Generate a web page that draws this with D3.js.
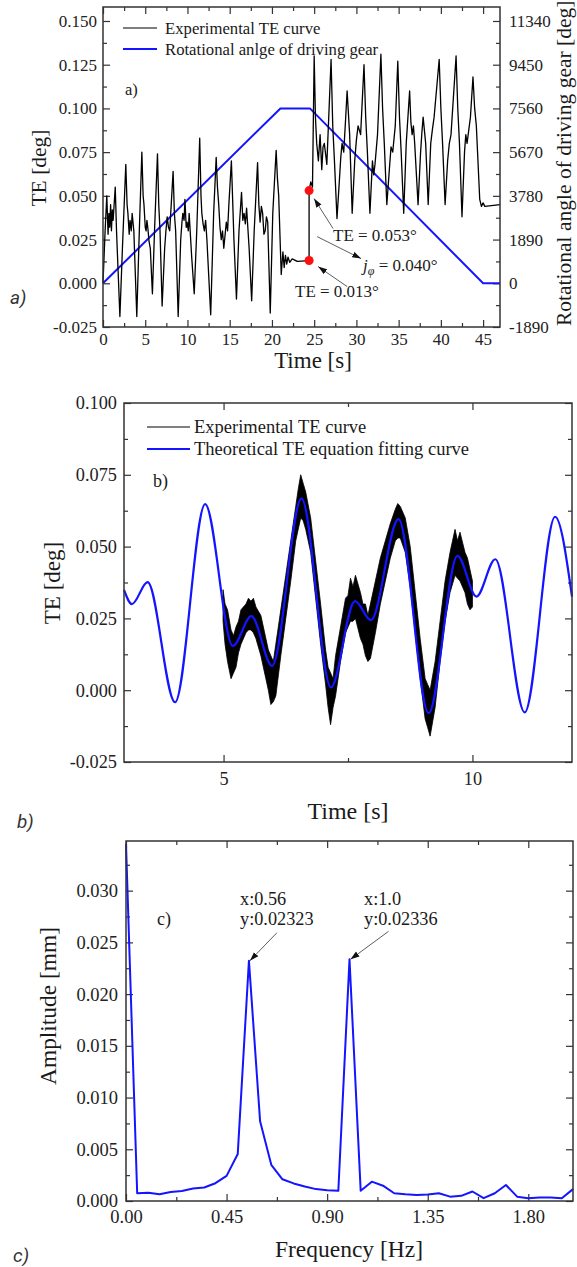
<!DOCTYPE html>
<html>
<head>
<meta charset="utf-8">
<script src="https://cdn.jsdelivr.net/npm/d3@7"></script>
<style>
  body { margin: 0; background: #fff; }
  svg { display: block; }
</style>
</head>
<body>
<svg id="chart" width="577" height="1267"></svg>
<script>
// ---- panel a: experimental TE [t (s), TE (deg)] ----
var teA = [
  [0, 0.000], [0.25, 0.030], [0.45, 0.050], [0.6, 0.028], [0.7, 0.040], [0.8, 0.032],
  [0.9, 0.045], [1.0, 0.030], [1.1, 0.042], [1.2, 0.036], [1.45, 0.055], [1.6, 0.030],
  [2.0, -0.019], [2.3, 0.020], [2.7, 0.068], [2.85, 0.045], [2.95, 0.040], [3.1, 0.028],
  [3.2, 0.036], [3.35, 0.030], [3.45, 0.040], [3.65, 0.030], [4.0, -0.019], [4.3, 0.030],
  [4.6, 0.075], [4.75, 0.050], [4.85, 0.045], [5.0, 0.032], [5.1, 0.030], [5.2, 0.036],
  [5.3, 0.032], [5.45, 0.024], [5.6, 0.020], [5.85, -0.006], [6.1, 0.030], [6.45, 0.074],
  [6.6, 0.045], [6.75, 0.030], [7.0, -0.013], [7.3, 0.020], [7.45, 0.030], [7.6, 0.038],
  [7.75, 0.032], [7.9, 0.030], [8.3, 0.064], [8.45, 0.040], [8.6, 0.030], [8.9, -0.019],
  [9.2, 0.025], [9.35, 0.035], [9.45, 0.040], [9.6, 0.036], [9.7, 0.048], [9.85, 0.032],
  [9.95, 0.035], [10.1, 0.030], [10.2, 0.040], [10.5, 0.015], [10.8, -0.006], [11.1, 0.030],
  [11.45, 0.083], [11.6, 0.050], [11.7, 0.040], [11.85, 0.034], [12.0, 0.030], [12.15, 0.036],
  [12.3, 0.025], [12.75, -0.018], [13.1, 0.040], [13.4, 0.072], [13.55, 0.055], [13.7, 0.045],
  [13.85, 0.032], [14.0, 0.025], [14.15, 0.030], [14.3, 0.020], [14.6, 0.035], [14.75, 0.030],
  [14.9, 0.045], [15.2, 0.070], [15.5, 0.025], [15.8, -0.009], [16.1, 0.030], [16.4, 0.052],
  [16.55, 0.036], [16.7, 0.040], [16.85, 0.034], [17.0, 0.043], [17.3, 0.020], [17.6, -0.010],
  [17.9, 0.030], [18.3, 0.069], [18.45, 0.045], [18.6, 0.035], [18.75, 0.044], [18.9, 0.040],
  [19.05, 0.028], [19.2, 0.030], [19.35, 0.038], [19.5, 0.035], [19.8, -0.017], [20.1, 0.040],
  [20.5, 0.076], [20.65, 0.060], [20.8, 0.050], [21.1, 0.005], [21.3, 0.018], [21.45, 0.009],
  [21.6, 0.016], [21.75, 0.011], [21.9, 0.015], [22.1, 0.012], [22.4, 0.014], [23.0, 0.0125],
  [24.4, 0.013],
  [24.4, 0.053], [24.6, 0.058], [24.8, 0.055], [25.0, 0.130], [25.15, 0.095], [25.3, 0.080],
  [25.5, 0.070], [25.7, 0.085], [25.9, 0.065], [26.05, 0.078], [26.2, 0.080], [26.5, 0.068],
  [27.0, 0.128], [27.2, 0.090], [27.4, 0.070], [27.7, 0.037], [28.0, 0.060], [28.15, 0.072],
  [28.3, 0.080], [28.5, 0.075], [28.7, 0.092], [28.9, 0.110], [29.2, 0.085], [29.5, 0.040],
  [29.8, 0.070], [30.0, 0.082], [30.2, 0.090], [30.5, 0.085], [30.9, 0.125], [31.1, 0.095],
  [31.3, 0.075], [31.6, 0.040], [31.9, 0.070], [32.05, 0.062], [32.2, 0.068], [32.5, 0.085],
  [32.9, 0.131], [33.1, 0.100], [33.3, 0.080], [33.6, 0.045], [33.9, 0.065], [34.1, 0.078],
  [34.3, 0.075], [34.6, 0.090], [34.9, 0.127], [35.1, 0.095], [35.3, 0.075], [35.6, 0.040],
  [35.9, 0.080], [36.3, 0.110], [36.45, 0.092], [36.6, 0.085], [36.75, 0.090], [36.9, 0.080],
  [37.3, 0.045], [37.6, 0.075], [37.75, 0.086], [37.9, 0.095], [38.2, 0.080], [38.5, 0.045],
  [38.8, 0.080], [39.0, 0.088], [39.2, 0.095], [39.8, 0.128], [40.0, 0.100], [40.2, 0.080],
  [40.5, 0.045], [40.8, 0.070], [41.0, 0.080], [41.2, 0.085], [41.8, 0.130], [42.0, 0.100],
  [42.2, 0.080], [42.5, 0.038], [42.8, 0.075], [42.95, 0.085], [43.1, 0.080], [43.5, 0.095],
  [43.8, 0.118], [44.0, 0.100], [44.2, 0.090], [44.6, 0.048], [44.8, 0.044], [45.0, 0.046],
  [45.2, 0.044], [47.0, 0.045]
];
// rotational angle of driving gear [t, deg]
var angleA = [[0, 0], [21, 7560], [24.5, 7560], [45, 0], [47, 0]];
var pointsA = [[24.4, 0.053], [24.4, 0.013]];
var xTicksA = [0, 5, 10, 15, 20, 25, 30, 35, 40, 45];
var yTicksA = [-0.025, 0, 0.025, 0.05, 0.075, 0.1, 0.125, 0.15];
var yTicksA2 = [-1890, 0, 1890, 3780, 5670, 7560, 9450, 11340];

// ---- panel b: fitted curve extrema [t, TE] and experimental band ----
var fitB = [
  [3.0, 0.0349], [3.159, 0.030], [3.474, 0.0376], [4.026, -0.0042], [4.63, 0.0648],
  [5.188, 0.0154], [5.558, 0.0258], [5.975, 0.0085], [6.566, 0.0668], [7.157, 0.001],
  [7.64, 0.031], [7.96, 0.0244], [8.515, 0.0596], [9.12, -0.008], [9.70, 0.0468],
  [10.08, 0.0326], [10.46, 0.0456], [11.05, -0.0077], [11.66, 0.0604], [12.0, 0.0326]
];
// [t, low, high]
var expB = [
  [4.99, 0.024, 0.035], [5.03, 0.016, 0.030], [5.08, 0.010, 0.028], [5.15, 0.004, 0.021],
  [5.2, 0.006, 0.019], [5.25, 0.008, 0.022], [5.3, 0.013, 0.024], [5.35, 0.016, 0.028],
  [5.45, 0.020, 0.030], [5.5, 0.021, 0.032], [5.55, 0.021, 0.031], [5.6, 0.020, 0.032],
  [5.65, 0.018, 0.029], [5.75, 0.012, 0.026], [5.85, 0.004, 0.018], [5.9, 0.0, 0.014],
  [5.95, -0.005, 0.012], [6.0, -0.004, 0.010], [6.05, -0.002, 0.016], [6.15, 0.012, 0.028],
  [6.25, 0.025, 0.040], [6.35, 0.038, 0.052], [6.45, 0.052, 0.064], [6.5, 0.056, 0.070],
  [6.55, 0.060, 0.075], [6.6, 0.059, 0.072], [6.65, 0.056, 0.069], [6.75, 0.048, 0.060],
  [6.85, 0.032, 0.045], [6.95, 0.016, 0.030], [7.05, 0.002, 0.014], [7.1, -0.006, 0.008],
  [7.15, -0.012, 0.006], [7.2, -0.006, 0.004], [7.25, -0.002, 0.012], [7.35, 0.010, 0.022],
  [7.45, 0.020, 0.032], [7.5, 0.022, 0.033], [7.55, 0.024, 0.039], [7.6, 0.024, 0.036],
  [7.65, 0.025, 0.040], [7.75, 0.018, 0.034], [7.8, 0.016, 0.030], [7.85, 0.012, 0.030],
  [7.9, 0.010, 0.026], [7.95, 0.011, 0.030], [8.05, 0.020, 0.038], [8.15, 0.030, 0.046],
  [8.25, 0.038, 0.052], [8.35, 0.046, 0.058], [8.45, 0.052, 0.063], [8.5, 0.053, 0.065],
  [8.55, 0.053, 0.064], [8.65, 0.048, 0.060], [8.75, 0.036, 0.050], [8.85, 0.020, 0.034],
  [8.95, 0.004, 0.018], [9.05, -0.010, 0.004], [9.1, -0.013, 0.002], [9.15, -0.016, 0.000],
  [9.25, -0.006, 0.010], [9.35, 0.010, 0.024], [9.45, 0.024, 0.038], [9.55, 0.034, 0.048],
  [9.6, 0.037, 0.052], [9.65, 0.040, 0.056], [9.7, 0.039, 0.052], [9.75, 0.038, 0.055],
  [9.85, 0.034, 0.048], [9.9, 0.030, 0.046], [9.95, 0.028, 0.042], [10.0, 0.029, 0.038]
];
var xTicksB = [5, 10];
var yTicksB = [-0.025, 0, 0.025, 0.05, 0.075, 0.1];

// ---- panel c: amplitude spectrum ----
var freqC = [0, 0.05, 0.10, 0.15, 0.20, 0.25, 0.30, 0.35, 0.40, 0.45, 0.50, 0.55, 0.60, 0.65,
  0.70, 0.75, 0.80, 0.85, 0.90, 0.95, 1.00, 1.05, 1.10, 1.15, 1.20, 1.25, 1.30, 1.35, 1.40,
  1.45, 1.50, 1.55, 1.60, 1.65, 1.70, 1.75, 1.80, 1.85, 1.90, 1.95, 2.00];
var ampC = [0.0345, 0.00075, 0.00080, 0.00065, 0.00088, 0.00097, 0.00120, 0.00130, 0.00172,
  0.00243, 0.00455, 0.02323, 0.0077, 0.0035, 0.0021, 0.0017, 0.00140, 0.00115, 0.00105,
  0.00098, 0.02336, 0.00100, 0.00187, 0.00148, 0.00075, 0.00065, 0.00058, 0.00062, 0.00075,
  0.00042, 0.00050, 0.00092, 0.00027, 0.00075, 0.00155, 0.00042, 0.00027, 0.00033, 0.00033,
  0.00027, 0.00115];
var xTicksC = [0, 0.45, 0.9, 1.35, 1.8];
var yTicksC = [0, 0.005, 0.01, 0.015, 0.02, 0.025, 0.03];

var SERIF = "'Liberation Serif', 'Times New Roman', serif";
var BLUE = "#1414ff";
var svg = d3.select("#chart");

// hyphen minus like the original, not the unicode minus d3 uses
function fmt(spec) {
  var f = d3.format(spec);
  return function(v) { return f(v).replace("\u2212", "-"); };
}

var defs = svg.append("defs");
defs.append("marker").attr("id", "head")
  .attr("markerUnits", "userSpaceOnUse")
  .attr("markerWidth", 9).attr("markerHeight", 7)
  .attr("refX", 9).attr("refY", 3.5).attr("orient", "auto")
  .append("path").attr("d", "M0,0.5 L9,3.5 L0,6.5 Z").attr("fill", "#111");

function addAxis(gen, tr, vals, format, size, pad, fs) {
  var a = svg.append("g").attr("transform", tr)
    .call(gen.tickValues(vals).tickFormat(format || function() { return ""; })
      .tickSize(size).tickPadding(pad || 0));
  a.attr("font-family", SERIF).attr("font-size", fs || 10);
  a.select(".domain").remove();
  a.selectAll("line").attr("stroke", "#333").attr("stroke-width", 1.2);
  a.selectAll("text").attr("fill", "#222");
  return a;
}

function minors(ticks) {
  // half-way ticks between major ticks
  var out = [];
  for (var i = 0; i < ticks.length - 1; i++) out.push((ticks[i] + ticks[i + 1]) / 2);
  return out;
}

function frame(x, y) {
  var r = x.range(), s = y.range();
  svg.append("rect").attr("x", r[0]).attr("y", s[1])
    .attr("width", r[1] - r[0]).attr("height", s[0] - s[1])
    .attr("fill", "none").attr("stroke", "#333").attr("stroke-width", 1.5);
}

function text(x, y, str, fs, opts) {
  opts = opts || {};
  var t = svg.append("text").attr("x", x).attr("y", y).text(str)
    .attr("font-family", opts.family || SERIF).attr("font-size", fs)
    .attr("fill", opts.fill || "#1a1a1a")
    .attr("text-anchor", opts.anchor || "start");
  if (opts.italic) t.attr("font-style", "italic");
  if (opts.rotate) t.attr("transform", "rotate(-90," + x + "," + y + ")");
  return t;
}

function arrow(x1, y1, x2, y2) {
  svg.append("line").attr("x1", x1).attr("y1", y1).attr("x2", x2).attr("y2", y2)
    .attr("stroke", "#333").attr("stroke-width", 0.8).attr("marker-end", "url(#head)");
}

// ================= panel a =================
var xA = d3.scaleLinear().domain([0, 47]).range([103, 500]);
var yA = d3.scaleLinear().domain([-0.025, 0.158]).range([327, 7]);
var yA2 = d3.scaleLinear().domain([-1890, 0.158 * 75600]).range([327, 7]);

var xMinA = minors(xTicksA);
var yMinA = minors(yTicksA);
var yMinA2 = minors(yTicksA2);

addAxis(d3.axisBottom(xA), "translate(0,327)", xTicksA, fmt("d"), -7, 6, 17);
addAxis(d3.axisBottom(xA), "translate(0,327)", xMinA, null, -4);
addAxis(d3.axisTop(xA), "translate(0,7)", xTicksA, null, -7);
addAxis(d3.axisTop(xA), "translate(0,7)", xMinA, null, -4);
addAxis(d3.axisLeft(yA), "translate(103,0)", yTicksA, fmt(".3f"), -7, 6, 17);
addAxis(d3.axisLeft(yA), "translate(103,0)", yMinA, null, -4);
addAxis(d3.axisRight(yA2), "translate(500,0)", yTicksA2, fmt("d"), -7, 9, 17);
addAxis(d3.axisRight(yA2), "translate(500,0)", yMinA2, null, -4);

var lineA = d3.line().x(function(d) { return xA(d[0]); }).y(function(d) { return yA(d[1]); });
var lineA2 = d3.line().x(function(d) { return xA(d[0]); }).y(function(d) { return yA2(d[1]); });

svg.append("path").datum(angleA).attr("d", lineA2)
  .attr("fill", "none").attr("stroke", BLUE).attr("stroke-width", 2);
svg.append("path").datum(teA).attr("d", lineA)
  .attr("fill", "none").attr("stroke", "#000").attr("stroke-width", 1.3)
  .attr("stroke-linejoin", "round");

svg.selectAll(".redpt").data(pointsA).enter().append("circle")
  .attr("cx", function(d) { return xA(d[0]); }).attr("cy", function(d) { return yA(d[1]); })
  .attr("r", 4.5).attr("fill", "#ff1010");

frame(xA, yA);

// legend a
svg.append("line").attr("x1", 123).attr("x2", 157).attr("y1", 28).attr("y2", 28)
  .attr("stroke", "#000").attr("stroke-width", 1);
text(165, 34, "Experimental TE curve", 16.7);
svg.append("line").attr("x1", 123).attr("x2", 157).attr("y1", 49).attr("y2", 49)
  .attr("stroke", BLUE).attr("stroke-width", 2);
text(165, 55, "Rotational anlge of driving gear", 16.7);
text(125, 95, "a)", 16.5);

// annotations a
var pHi = [xA(pointsA[0][0]), yA(pointsA[0][1])];
var pLo = [xA(pointsA[1][0]), yA(pointsA[1][1])];
arrow(pHi[0] + 24, pHi[1] + 38, pHi[0] + 5, pHi[1] + 8);
arrow(pHi[0] + 8, pHi[1] + 46, pHi[0] + 52, pHi[1] + 68);
arrow(pLo[0] + 38, pLo[1] + 26, pLo[0] + 9, pLo[1] + 6);
text(333, 241, "TE = 0.053°", 17);
text(295, 297, "TE = 0.013°", 17);
var jt = text(363, 271, "", 17);
jt.append("tspan").attr("font-style", "italic").text("j");
jt.append("tspan").attr("font-style", "italic").attr("font-size", 12).attr("dy", 4).text("φ");
jt.append("tspan").attr("dy", -4).text(" = 0.040°");

// titles a
text(46, 168, "TE [deg]", 21.5, { anchor: "middle", rotate: true });
text(571, 326, "Rotational angle of driving gear [deg]", 21.5, { rotate: true });
text(313, 368, "Time [s]", 23, { anchor: "middle" });
text(10, 304, "a)", 19, { family: "Roboto, sans-serif", italic: true, fill: "#333" });

// ================= panel b =================
var xB = d3.scaleLinear().domain([3, 12]).range([124, 572]);
var yB = d3.scaleLinear().domain([-0.025, 0.1]).range([762, 403]);
var xMinB = [7.5];
var yMinB = minors(yTicksB);

addAxis(d3.axisBottom(xB), "translate(0,762)", xTicksB, fmt("d"), -7, 10, 18.3);
addAxis(d3.axisBottom(xB), "translate(0,762)", xMinB, null, -4);
addAxis(d3.axisTop(xB), "translate(0,403)", xTicksB, null, -7);
addAxis(d3.axisTop(xB), "translate(0,403)", xMinB, null, -4);
addAxis(d3.axisLeft(yB), "translate(124,0)", yTicksB, fmt(".3f"), -7, 7, 18.3);
addAxis(d3.axisLeft(yB), "translate(124,0)", yMinB, null, -4);
addAxis(d3.axisRight(yB), "translate(572,0)", yTicksB, null, -7);
addAxis(d3.axisRight(yB), "translate(572,0)", yMinB, null, -4);

var bandB = d3.area().x(function(d) { return xB(d[0]); })
  .y0(function(d) { return yB(d[1]); }).y1(function(d) { return yB(d[2]); });
svg.append("path").datum(expB).attr("d", bandB).attr("fill", "#000")
  .attr("stroke", "#000").attr("stroke-width", 0.8);

var lineB = d3.line().curve(d3.curveMonotoneX)
  .x(function(d) { return xB(d[0]); }).y(function(d) { return yB(d[1]); });
svg.append("path").datum(fitB).attr("d", lineB)
  .attr("fill", "none").attr("stroke", BLUE).attr("stroke-width", 2.2);

frame(xB, yB);

svg.append("line").attr("x1", 147).attr("x2", 190).attr("y1", 427).attr("y2", 427)
  .attr("stroke", "#000").attr("stroke-width", 1);
text(194, 433, "Experimental TE curve", 18.5);
svg.append("line").attr("x1", 147).attr("x2", 190).attr("y1", 449).attr("y2", 449)
  .attr("stroke", BLUE).attr("stroke-width", 2);
text(194, 455, "Theoretical TE equation fitting curve", 18.5);
text(153, 487, "b)", 18);

text(60, 583, "TE [deg]", 23, { anchor: "middle", rotate: true });
text(348, 819, "Time [s]", 24, { anchor: "middle" });
text(17, 828, "b)", 19, { family: "Roboto, sans-serif", italic: true, fill: "#333" });

// ================= panel c =================
var xC = d3.scaleLinear().domain([0, 2.0]).range([126, 573]);
var yC = d3.scaleLinear().domain([0, 0.0348]).range([1201, 841]);
var xMinC = minors(xTicksC);
var yMinC = minors(yTicksC).concat([0.0325]);

addAxis(d3.axisBottom(xC), "translate(0,1201)", xTicksC, fmt(".2f"), -7, 9, 18.5);
addAxis(d3.axisBottom(xC), "translate(0,1201)", xMinC, null, -4);
addAxis(d3.axisTop(xC), "translate(0,841)", xTicksC, null, -7);
addAxis(d3.axisTop(xC), "translate(0,841)", xMinC, null, -4);
addAxis(d3.axisLeft(yC), "translate(126,0)", yTicksC, fmt(".3f"), -7, 8, 18.5);
addAxis(d3.axisLeft(yC), "translate(126,0)", yMinC, null, -4);
addAxis(d3.axisRight(yC), "translate(573,0)", yTicksC, null, -7);
addAxis(d3.axisRight(yC), "translate(573,0)", yMinC, null, -4);

var lineC = d3.line().x(function(d, i) { return xC(freqC[i]); }).y(function(d) { return yC(d); });
svg.append("path").datum(ampC).attr("d", lineC)
  .attr("fill", "none").attr("stroke", BLUE).attr("stroke-width", 2)
  .attr("stroke-linejoin", "round");

frame(xC, yC);

var pk1 = [xC(freqC[11]), yC(ampC[11])];
var pk2 = [xC(freqC[20]), yC(ampC[20])];
arrow(pk1[0] + 28, pk1[1] - 28, pk1[0] + 1, pk1[1]);
arrow(pk2[0] + 39, pk2[1] - 28, pk2[0] + 1, pk2[1]);
text(240, 905, "x:0.56", 18.3);
text(240, 925, "y:0.02323", 18.3);
text(364, 905, "x:1.0", 18.3);
text(364, 925, "y:0.02336", 18.3);
text(157, 925, "c)", 18);

text(56, 1006, "Amplitude [mm]", 23.4, { anchor: "middle", rotate: true });
text(349, 1257, "Frequency [Hz]", 23.5, { anchor: "middle" });
text(13, 1262, "c)", 19, { family: "Roboto, sans-serif", italic: true, fill: "#333" });
</script>
</body>
</html>
